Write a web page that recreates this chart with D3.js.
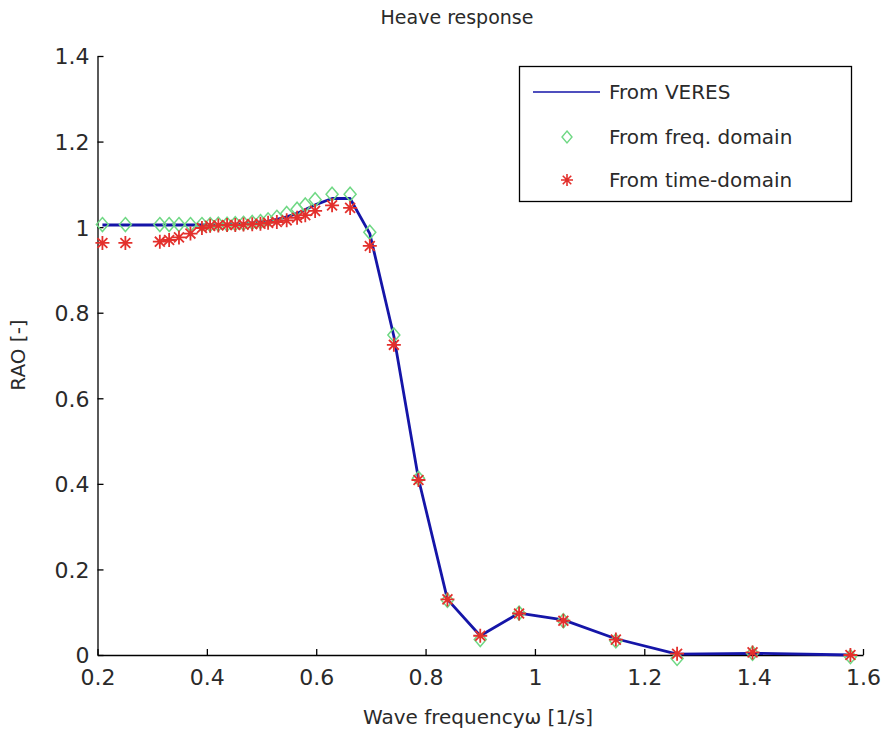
<!DOCTYPE html>
<html>
<head>
<meta charset="utf-8">
<script src="https://cdn.jsdelivr.net/npm/d3@7"></script>
<style>
  html, body { margin: 0; padding: 0; background: #fff; }
  svg { display: block; font-family: "DejaVu Sans", sans-serif; }
</style>
</head>
<body>
<svg id="chart" width="884" height="734"></svg>
<script>
// Wave frequencies [1/s]
const omega = [0.209, 0.251, 0.314, 0.331, 0.349, 0.370, 0.391, 0.406, 0.421, 0.437,
  0.452, 0.467, 0.483, 0.498, 0.512, 0.528, 0.546, 0.565, 0.580, 0.598,
  0.629, 0.662, 0.698, 0.742, 0.787, 0.840, 0.900, 0.971, 1.052, 1.148,
  1.260, 1.398, 1.577];

// Heave RAO from VERES
const veres = [1.005, 1.005, 1.005, 1.005, 1.005, 1.005, 1.005, 1.005, 1.006, 1.006,
  1.007, 1.008, 1.010, 1.012, 1.014, 1.018, 1.024, 1.032, 1.041, 1.052,
  1.067, 1.067, 0.985, 0.745, 0.412, 0.130, 0.045, 0.098, 0.082, 0.038,
  0.002, 0.004, 0.000];

// Heave RAO from frequency-domain model
const freqDomain = [1.006, 1.006, 1.006, 1.006, 1.006, 1.006, 1.006, 1.006, 1.007, 1.007,
  1.008, 1.009, 1.011, 1.013, 1.017, 1.023, 1.032, 1.042, 1.052, 1.064,
  1.077, 1.077, 0.988, 0.748, 0.413, 0.128, 0.036, 0.098, 0.080, 0.033,
  -0.008, 0.004, -0.004];

// Heave RAO from time-domain simulation
const timeDomain = [0.963, 0.963, 0.966, 0.970, 0.976, 0.985, 0.998, 1.003, 1.004, 1.005,
  1.005, 1.006, 1.007, 1.008, 1.010, 1.012, 1.016, 1.022, 1.028, 1.038,
  1.051, 1.045, 0.956, 0.725, 0.409, 0.130, 0.045, 0.097, 0.080, 0.036,
  0.003, 0.006, 0.000];

const xTicks = [0.2, 0.4, 0.6, 0.8, 1.0, 1.2, 1.4, 1.6];
const yTicks = [0, 0.2, 0.4, 0.6, 0.8, 1.0, 1.2, 1.4];

const legendLabels = ["From VERES", "From freq. domain", "From time-domain"];
const titleText = "Heave response";
const xLabel = "Wave frequency\u03c9 [1/s]";
const yLabel = "RAO [-]";

const lineColor = "#1515a8";
const diamondColor = "#6fd884";
const starColor = "#e3302c";
const textColor = "#2a2a2a";

const svg = d3.select("#chart");
const plot = { left: 97.5, right: 863, top: 56, bottom: 655 };

const x = d3.scaleLinear().domain([0.2, 1.6]).range([plot.left, plot.right]);
const y = d3.scaleLinear().domain([0, 1.4]).range([plot.bottom, plot.top]);

// Axes: only left and bottom, ticks pointing inward
const xAxis = svg.append("g")
  .attr("transform", `translate(0,${plot.bottom})`)
  .call(d3.axisBottom(x).tickValues(xTicks)
    .tickFormat(d => d3.format("~g")(d))
    .tickSizeInner(-6).tickSizeOuter(0).tickPadding(14));
const yAxis = svg.append("g")
  .attr("transform", `translate(${plot.left},0)`)
  .call(d3.axisLeft(y).tickValues(yTicks)
    .tickFormat(d => d3.format("~g")(d))
    .tickSizeInner(-6).tickSizeOuter(0).tickPadding(8));

[xAxis, yAxis].forEach(g => {
  g.select(".domain").attr("stroke", "#000").attr("stroke-width", 1.3);
  g.selectAll(".tick line").attr("stroke", "#000").attr("stroke-width", 1.3);
  g.selectAll(".tick text").attr("fill", textColor)
    .attr("font-size", 22).attr("font-family", "DejaVu Sans, sans-serif");
});
xAxis.selectAll(".tick text").attr("dy", "0.71em");
yAxis.selectAll(".tick text").attr("dy", "0.36em");

// Title and axis labels
svg.append("text")
  .attr("x", 457).attr("y", 24)
  .attr("text-anchor", "middle")
  .attr("font-size", 19).attr("fill", textColor)
  .text(titleText);

svg.append("text")
  .attr("x", 478).attr("y", 724)
  .attr("text-anchor", "middle")
  .attr("font-size", 20).attr("fill", textColor)
  .text(xLabel);

svg.append("text")
  .attr("transform", `translate(25,355) rotate(-90)`)
  .attr("text-anchor", "middle")
  .attr("font-size", 20).attr("fill", textColor)
  .text(yLabel);

// VERES curve
const line = d3.line().x((d, i) => x(omega[i])).y(d => y(d));
svg.append("path")
  .datum(veres)
  .attr("fill", "none")
  .attr("stroke", lineColor)
  .attr("stroke-width", 2.8)
  .attr("stroke-linejoin", "round")
  .attr("d", line);

// Marker shapes
function diamondPath(w, h) {
  return `M0,${-h / 2}L${w / 2},0L0,${h / 2}L${-w / 2},0Z`;
}
function starPath(r) {
  const k = r * Math.SQRT1_2;
  return `M${-r},0L${r},0M0,${-r}L0,${r}M${-k},${-k}L${k},${k}M${-k},${k}L${k},${-k}`;
}

// Frequency-domain diamonds
svg.append("g").selectAll("path")
  .data(freqDomain)
  .join("path")
  .attr("transform", (d, i) => `translate(${x(omega[i])},${y(d)})`)
  .attr("d", diamondPath(12, 14))
  .attr("fill", "none")
  .attr("stroke", diamondColor)
  .attr("stroke-width", 1.5);

// Time-domain asterisks
svg.append("g").selectAll("path")
  .data(timeDomain)
  .join("path")
  .attr("transform", (d, i) => `translate(${x(omega[i])},${y(d)})`)
  .attr("d", starPath(7))
  .attr("fill", "none")
  .attr("stroke", starColor)
  .attr("stroke-width", 1.8);

// Legend
const legend = svg.append("g");
legend.append("rect")
  .attr("x", 519.5).attr("y", 66.5)
  .attr("width", 332).attr("height", 135)
  .attr("fill", "#fff")
  .attr("stroke", "#000").attr("stroke-width", 1.3);

const rowY = [92, 137, 180];
legend.append("line")
  .attr("x1", 533).attr("x2", 600)
  .attr("y1", rowY[0]).attr("y2", rowY[0])
  .attr("stroke", lineColor).attr("stroke-width", 1.6);
legend.append("path")
  .attr("transform", `translate(567,${rowY[1]})`)
  .attr("d", diamondPath(10, 12))
  .attr("fill", "none").attr("stroke", diamondColor).attr("stroke-width", 1.4);
legend.append("path")
  .attr("transform", `translate(567,${rowY[2]})`)
  .attr("d", starPath(6))
  .attr("fill", "none").attr("stroke", starColor).attr("stroke-width", 1.6);

legend.selectAll("text.lbl")
  .data(legendLabels)
  .join("text")
  .attr("class", "lbl")
  .attr("x", 609)
  .attr("y", (d, i) => rowY[i])
  .attr("dy", "0.36em")
  .attr("font-size", 20)
  .attr("fill", textColor)
  .text(d => d);
</script>
</body>
</html>
